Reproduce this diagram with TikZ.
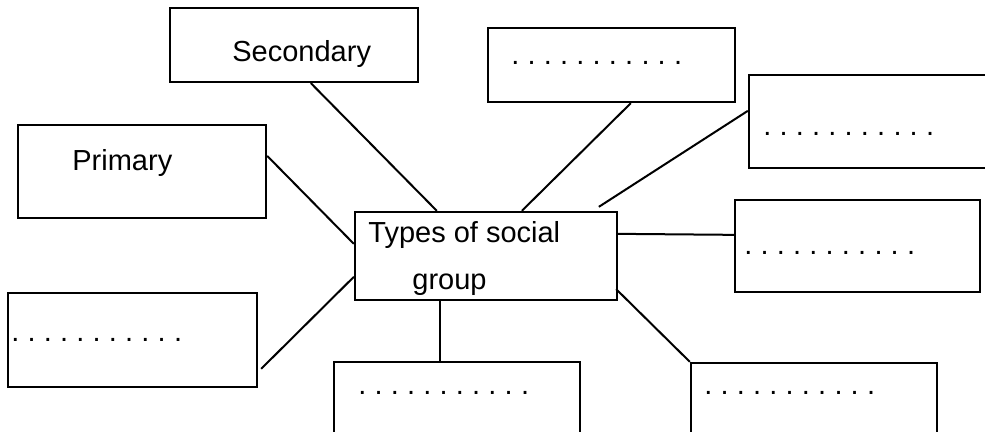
\documentclass[tikz,border=0pt]{standalone}
\usepackage{fontspec}
\setmainfont{Liberation Sans}
\usetikzlibrary{fit}
% a row of eleven evenly spaced dots
\newcommand\dotrun{\foreach \k in {1,...,11}{.\kern4.1pt}}
\begin{document}
\begin{tikzpicture}[x={(0.5pt,0)}, y={(0,-0.5pt)},
  box/.style={draw, line width=1.15pt, inner sep=0pt},
  link/.style={draw, line width=1pt},
  lbl/.style={anchor=base west, inner sep=0pt, font=\fontsize{14.5pt}{17pt}\selectfont}]
  \clip (0,0) rectangle (985,432);
  \fill[white] (0,0) rectangle (985,432);

  % boxes
  \node[box, fit={(170,8) (418,82)}]   (sec) {};
  \node[box, fit={(488,28) (735,102)}] (tm)  {};
  \node[box, fit={(749,75) (1000,168)}] (rt) {};
  \node[box, fit={(18,125) (266,218)}] (pri) {};
  \node[box, fit={(355,212) (617,300)}] (ctr) {};
  \node[box, fit={(735,200) (980,292)}] (rm) {};
  \node[box, fit={(8,293) (257,387)}]  (lb)  {};
  \node[box, fit={(334,362) (580,450)}] (bm) {};
  \node[box, fit={(691,363) (937,450)}] (br) {};

  % labels
  \node[lbl] (tsec) at (232,62)  {Secondary};
  \node[lbl] (tpri) at (72,171)  {Primary};
  \node[lbl] (tc1)  at (368,243) {Types of social};
  \node[lbl] (tc2)  at (412,290) {group};
  \node[lbl] (dtm)  at (511,65)  {\dotrun};
  \node[lbl] (drt)  at (763,136) {\dotrun};
  \node[lbl] (drm)  at (744,255) {\dotrun};
  \node[lbl] (dlb)  at (11,342)  {\dotrun};
  \node[lbl] (dbm)  at (358,395) {\dotrun};
  \node[lbl] (dbr)  at (704,395) {\dotrun};

  % connectors
  \draw[link] ([xshift=71pt]sec.south west) -- ([xshift=41.5pt]ctr.north west);
  \draw[link] ([xshift=72pt]tm.south west) -- ([xshift=84pt]ctr.north west);
  \draw[link] ([yshift=-18.5pt]rt.north west) -- ([xshift=122.5pt,yshift=2pt]ctr.north west);
  \draw[link] ([yshift=-16pt]pri.north east) -- ([yshift=-16.5pt]ctr.north west);
  \draw[link] ([yshift=-11.5pt]ctr.north east) -- ([yshift=-18pt]rm.north west);
  \draw[link] ([yshift=-33pt]ctr.north west) -- ([xshift=1.5pt,yshift=-38.5pt]lb.north east);
  \draw[link] ([xshift=43pt]ctr.south west) -- ([xshift=53.5pt]bm.north west);
  \draw[link] ([xshift=-1pt,yshift=6pt]ctr.south east) -- (br.north west);
\end{tikzpicture}
\end{document}
